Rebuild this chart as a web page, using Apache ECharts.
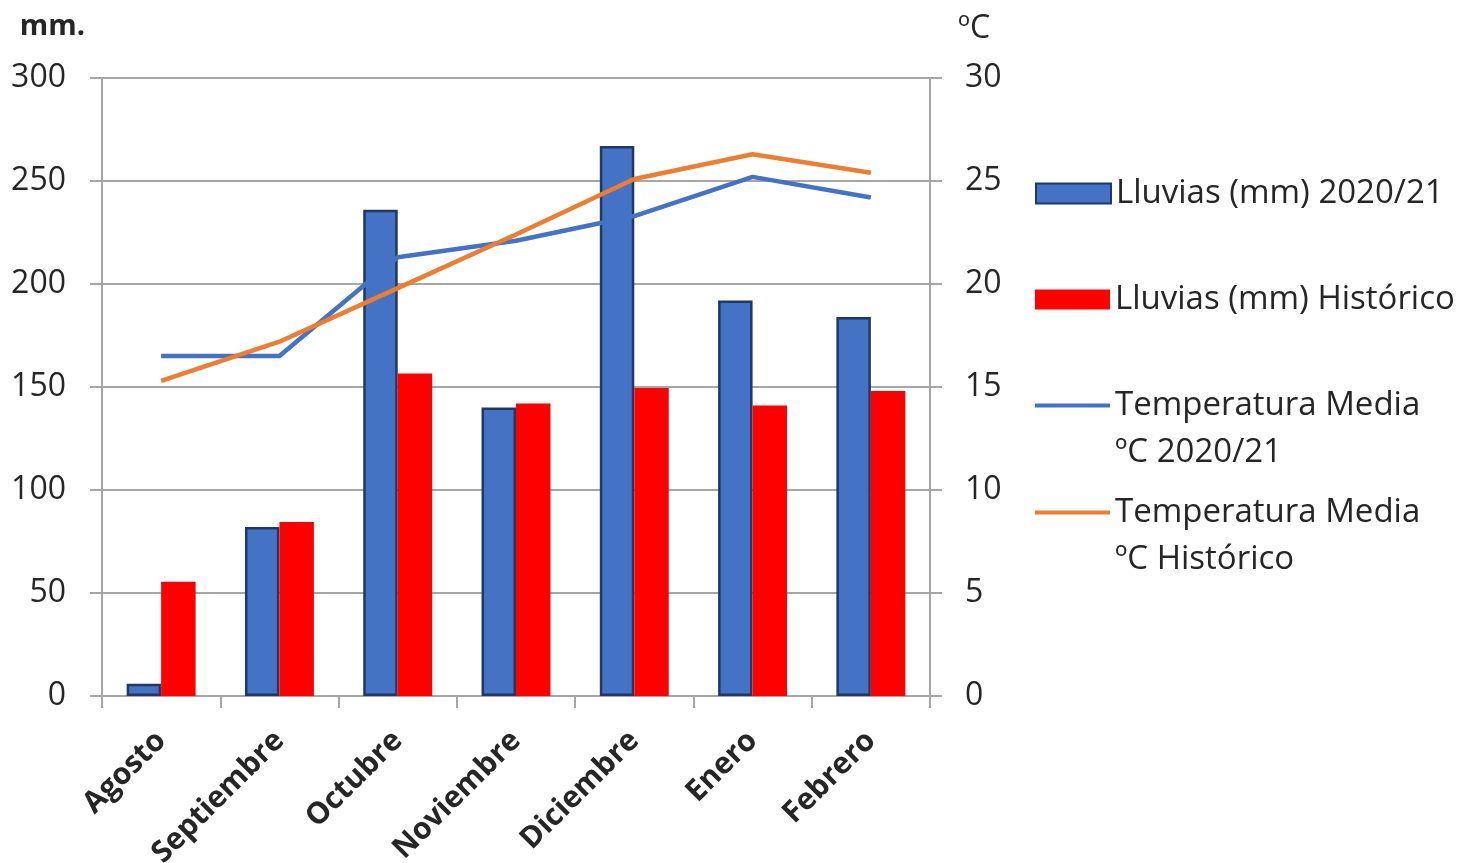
<!DOCTYPE html>
<html>
<head>
<meta charset="utf-8">
<script src="https://cdn.jsdelivr.net/npm/echarts@6/dist/echarts.min.js"></script>
<style>
  html, body { margin: 0; padding: 0; background: #ffffff; }
  #chart { width: 1471px; height: 863px; }
</style>
</head>
<body>
<div id="chart"></div>
<script>
// Monthly rainfall (mm) and mean temperature (ºC), season 2020/21 vs historical
const categories = ['Agosto', 'Septiembre', 'Octubre', 'Noviembre', 'Diciembre', 'Enero', 'Febrero'];
const rain2021 = [6, 82, 236, 140, 267, 192, 184];
const rainHist = [55.5, 84.5, 156.5, 142, 149.5, 141, 148];
const temp2021 = [16.5, 16.5, 21.3, 22.1, 23.3, 25.2, 24.2];
const tempHist = [15.3, 17.2, 19.8, 22.4, 25.1, 26.3, 25.4];
const seriesNames = [
  'Lluvias (mm) 2020/21',
  'Lluvias (mm) Histórico',
  'Temperatura Media\nºC 2020/21',
  'Temperatura Media\nºC Histórico'
];

const FONT = '"Open Sans", Lato, sans-serif';
const TEXT = '#262626';
const GRID = '#a6a6a6';
const BLUE = '#4472c4';
const RED = '#ff0000';
const ORANGE = '#ed7d31';

// Line legend icon: a stroke along the top of a taller box, so it lines up with the first text line
const lineIcon = 'path://M0,0L75,0L75,4L0,4Z M0,51L0.01,51L0.01,51.01L0,51.01Z';

const legendText = { fontFamily: FONT, fontSize: 33, color: TEXT, lineHeight: 47 };

const chart = echarts.init(document.getElementById('chart'), null, { renderer: 'canvas' });

chart.setOption({
  animation: false,
  backgroundColor: '#ffffff',
  grid: { left: 102, right: 541, top: 78, bottom: 167, containLabel: false, outerBoundsMode: 'none' },
  legend: [
    { data: [seriesNames[0]], left: 1035, top: 170, padding: 0, icon: 'rect',
      itemWidth: 75, itemHeight: 20, textStyle: legendText, selectedMode: false },
    { data: [seriesNames[1]], left: 1035, top: 276, padding: 0, icon: 'rect',
      itemWidth: 75, itemHeight: 20, textStyle: legendText, selectedMode: false },
    { data: [seriesNames[2]], left: 1035, top: 382, padding: 0, icon: lineIcon,
      itemWidth: 75, itemHeight: 51, textStyle: legendText, selectedMode: false },
    { data: [seriesNames[3]], left: 1035, top: 489, padding: 0, icon: lineIcon,
      itemWidth: 75, itemHeight: 51, textStyle: legendText, selectedMode: false }
  ],
  xAxis: {
    type: 'category',
    data: categories,
    boundaryGap: true,
    axisLine: { lineStyle: { color: GRID, width: 2 } },
    axisTick: { show: true, length: 12, lineStyle: { color: GRID, width: 2 } },
    axisLabel: {
      rotate: 45, margin: 40, interval: 0,
      fontFamily: FONT, fontSize: 30, fontWeight: 'bold', color: TEXT
    }
  },
  yAxis: [
    {
      type: 'value', min: 0, max: 300, interval: 50, position: 'left',
      name: 'mm.', nameLocation: 'end', nameGap: 37,
      nameTextStyle: { fontFamily: FONT, fontSize: 29, fontWeight: 'bold', color: TEXT,
        align: 'right', verticalAlign: 'bottom', padding: [0, 17, 0, 0] },
      axisLine: { show: true, lineStyle: { color: GRID, width: 2 } },
      axisTick: { show: true, length: 12, lineStyle: { color: GRID, width: 2 } },
      splitLine: { show: true, lineStyle: { color: GRID, width: 2 } },
      axisLabel: { margin: 36, fontFamily: FONT, fontSize: 32, color: TEXT }
    },
    {
      type: 'value', min: 0, max: 30, interval: 5, position: 'right',
      name: 'ºC', nameLocation: 'end', nameGap: 33,
      nameTextStyle: { fontFamily: FONT, fontSize: 32, color: TEXT,
        align: 'left', verticalAlign: 'bottom', padding: [0, 0, 0, 28] },
      axisLine: { show: true, lineStyle: { color: GRID, width: 2 } },
      axisTick: { show: true, length: 12, lineStyle: { color: GRID, width: 2 } },
      splitLine: { show: false },
      axisLabel: { margin: 35, fontFamily: FONT, fontSize: 32, color: TEXT }
    }
  ],
  series: [
    {
      name: seriesNames[0], type: 'bar', yAxisIndex: 0, data: rain2021,
      barGap: '0%', barCategoryGap: '41.7%', z: 2,
      itemStyle: { color: BLUE, borderColor: '#1f3864', borderWidth: 2.5 }
    },
    {
      name: seriesNames[1], type: 'bar', yAxisIndex: 0, data: rainHist,
      barGap: '0%', barCategoryGap: '41.7%', z: 2,
      itemStyle: { color: RED, borderWidth: 0 }
    },
    {
      name: seriesNames[2], type: 'line', yAxisIndex: 1, data: temp2021,
      showSymbol: false, symbol: 'circle', z: 5,
      lineStyle: { color: BLUE, width: 4.5 }, itemStyle: { color: BLUE }
    },
    {
      name: seriesNames[3], type: 'line', yAxisIndex: 1, data: tempHist,
      showSymbol: false, symbol: 'circle', z: 5,
      lineStyle: { color: ORANGE, width: 4.5 }, itemStyle: { color: ORANGE }
    }
  ]
});
</script>
</body>
</html>
